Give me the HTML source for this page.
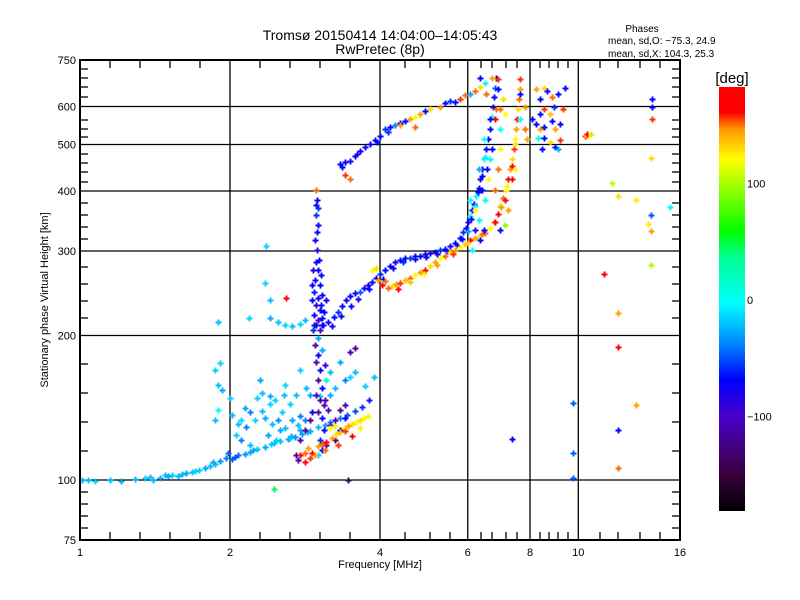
<!DOCTYPE html>
<html><head><meta charset="utf-8">
<style>
html,body{margin:0;padding:0;background:#fff;}
svg{display:block;font-family:"Liberation Sans",sans-serif;}
</style></head>
<body>
<svg id="chart" width="800" height="600" viewBox="0 0 800 600" xmlns="http://www.w3.org/2000/svg">
<defs>
<linearGradient id="cbar" x1="0" y1="1" x2="0" y2="0">
<stop offset="0" stop-color="#000000"/>
<stop offset="0.09" stop-color="#3a0040"/>
<stop offset="0.22" stop-color="#4a00c8"/>
<stop offset="0.31" stop-color="#0000ff"/>
<stop offset="0.39" stop-color="#0080ff"/>
<stop offset="0.49" stop-color="#00ffff"/>
<stop offset="0.60" stop-color="#00ff90"/>
<stop offset="0.66" stop-color="#00ff00"/>
<stop offset="0.83" stop-color="#ffff00"/>
<stop offset="0.90" stop-color="#ff9900"/>
<stop offset="0.92" stop-color="#ff5000"/>
<stop offset="0.94" stop-color="#ff0000"/>
<stop offset="1" stop-color="#ff0000"/>
</linearGradient>
</defs>
<text x="380" y="40" font-size="14" text-anchor="middle">Tromsø 20150414 14:04:00–14:05:43</text>
<text x="380" y="54" font-size="14" text-anchor="middle">RwPretec (8p)</text>
<text x="642" y="32" font-size="10" text-anchor="middle">Phases</text>
<text x="608" y="44" font-size="10">mean, sd,O: −75.3, 24.9</text>
<text x="608" y="57" font-size="10">mean, sd,X: 104.3, 25.3</text>
<g id="grid"></g>
<g id="marks"></g>
<rect x="80" y="60" width="600" height="480" fill="none" stroke="#000" stroke-width="2"/>
<g id="axes"></g>
<text x="380" y="568" font-size="11" text-anchor="middle">Frequency [MHz]</text>
<text x="0" y="0" font-size="11" text-anchor="middle" transform="translate(48,300) rotate(-90)">Stationary phase Virtual Height [km]</text>
<rect x="719" y="87" width="26" height="424" fill="url(#cbar)"/>
<text x="732" y="83" font-size="15" text-anchor="middle">[deg]</text>
<g id="cbticks"></g>
</svg>
<script>
// ---- data (frequency MHz, virtual height km, phase deg) ----
const lowF=[1.01,1.04,1.07,1.15,1.21,1.29,1.35,1.40,1.45,1.48,1.53,1.57,1.63,1.68,1.73,1.78,1.82,1.87,1.91,1.96,1.98,2.02,2.08,2.14,2.19,2.27,2.35,2.42,2.52,2.61,2.70,2.79,2.89,3.00,3.10,3.18,3.32,3.44,3.56,3.68,3.81,1.38,1.50,1.60,1.70,1.85,2.05,2.22,2.45,2.65,2.85];
const lowH=[100,100,99.5,100,99.5,100.5,101,100,101,102.4,102.4,101.9,103.4,103.9,104.9,105.9,106.9,107.9,109.5,111,113.8,110.5,112.7,113.2,114.4,116,117.1,118.8,120.6,121.8,123,124.7,126.5,129,130.2,132,134.6,136.5,139.2,141.8,146.5,101.5,102,103,104.5,109,111.5,115.5,119.5,123.5,126];
const lowP=[-55,-55,-50,-55,-60,-55,-50,-55,-60,-55,-50,-55,-60,-55,-50,-60,-55,-55,-65,-70,-75,-80,-75,-65,-60,-55,-60,-50,-55,-60,-65,-60,-60,-55,-65,-70,-70,-80,-85,-90,-95,-55,-60,-55,-50,-60,-80,-60,-55,-60,-60];

const cloudF=[2.02,2.10,2.14,2.08,2.19,2.25,2.32,2.35,2.41,2.43,2.50,2.54,2.58,2.64,2.66,2.74,2.76,2.27,2.32,2.41,2.46,2.57,2.10,2.06,2.19,2.38,2.47,2.64,2.76,2.83,1.87,1.89,1.91,1.93,1.89,1.87,2.0,2.15,2.52,2.92,2.89,2.71,3.03,3.25,3.40,3.18,3.33,3.48,3.56,3.73,3.89,3.10,2.84,2.58,2.30,2.76,2.35,2.41,2.18,1.89,2.5,2.58,2.66,2.76,2.83,2.41,2.36,2.59];
const cloudH=[136.6,133.4,141,131,138.6,133.4,139,134.7,144,131,133.4,138.6,128.3,144,133.4,130.2,136,148,151.8,149.6,146.8,150.4,121.2,124.1,118.3,124.1,121.2,122.4,127.1,133.4,169.6,157.8,175.4,154,139.9,133.4,148.2,129,127.1,138.6,150.4,150.4,149.7,155.5,161.6,168,176.2,164,168,157,164,146.8,155.5,157.8,161.6,169.6,257.6,237.4,217.7,213.6,213.6,210.5,209.5,211.5,215.6,217.7,307,239];
const cloudP=[-55,-50,-60,-55,-70,-50,-55,-60,-50,-55,-65,-50,-55,-50,-60,-55,-70,-50,-55,-60,-50,-55,-70,-50,-55,-60,-50,-55,-60,-70,-50,-55,-50,-60,-40,-55,-50,-70,-60,-100,-60,-55,-50,-55,-70,-55,-60,-50,-55,-50,-55,-130,-55,-50,-60,-50,-50,-55,-50,-55,-55,-50,-55,-50,-55,-60,-50,150];

const colF=[2.98,2.99,2.98,3.00,2.96,2.99,2.98,3.0,2.96,3.03,2.95,3.0,2.98,3.03,2.95,3.0,3.06,2.98,2.94,3.03,3.0,3.09,3.12,3.06,2.96,3.0,3.06,2.98,3.03,3.10,3.0,3.06,2.98,3.03,3.09,3.0,3.06,3.15,3.18,3.12,3.09,3.03,3.12,3.06,3.0,2.92,2.94,3.02,3.05,2.92,3.05,2.95,3.08,2.99,2.98,3.0,2.83,2.89,3.25,3.33,3.40,3.18,2.76,3.33,3.40,3.25,2.71,2.74,3.48,3.56];
const colH=[402.8,383.9,357.2,340.4,316.7,301.8,285,274.2,261.3,255.1,246.1,239.6,231.7,226.2,220.9,215.6,217.7,210.5,205.5,205.5,197.7,224,237.4,243.1,191.2,182.2,186.7,176.2,169.6,173.7,161.6,155.5,150.4,146.8,143.3,138.6,134.7,139.9,150.4,161.6,127.1,121.2,118.3,115.5,112.7,255.1,274.2,287.7,267.7,237.4,231.7,210.5,210.5,329,374.8,369,127.1,133.4,133.4,139.9,143.3,130.2,121.2,127.1,134.5,121.2,112.7,110.1,184.4,188.5];
const colP=[130,-100,-90,-100,-110,-120,-100,-100,-110,-100,-95,-100,-120,-100,-100,-130,-100,-100,-90,-130,-60,-100,-110,-100,-130,-100,-60,-130,-100,-120,-140,-100,-130,-140,-130,-140,-100,-130,-60,-20,-100,-90,-130,-100,-50,-100,-110,-100,-100,-100,-100,-110,-100,-100,-110,-90,-140,-140,-130,-140,-130,-140,-130,-110,-100,-150,-140,-130,-130,-140];

const oF=[3.06,3.15,3.23,3.30,3.36,3.42,3.48,3.56,3.65,3.71,3.78,3.85,3.92,4.0,4.10,4.19,4.29,4.39,4.49,4.59,4.70,4.81,4.92,5.04,5.16,5.28,5.40,5.53,5.66,5.79,5.87,5.95,6.0,6.06,6.12,6.18,6.24,6.31,6.35,6.42,6.48,6.54,6.60,6.65,6.72,6.75,6.78,6.80,6.84,3.20,3.34,3.50,3.62,3.80,4.05,4.25,4.45,4.70,4.95,5.20,5.45,5.70,5.85,6.0,6.1,6.2,6.3,6.4,6.5];
const oH=[210.5,213.6,218.2,224,230.6,237.4,241.9,245.6,246.7,251.5,255.1,258.8,263.9,269,274.2,279.5,285,287.7,290.4,290.4,293.3,293.3,296.1,297.6,299,301.8,303.3,307.7,312.2,319.8,329.1,335.6,345.4,355.5,365.9,376.6,391.3,406.7,422.7,443.5,465.3,488.3,512.3,537.6,569.5,597.6,627.2,655,687,209,220,230,238,250,262,276,284,288,292,295,300,308,318,330,350,372,398,430,470];
const oP=[-100,-110,-100,-90,-100,-110,-100,-100,-80,-100,-110,-100,-100,-90,-100,-100,-110,-100,-100,-90,-100,-100,-110,-100,-100,-90,-100,-110,-100,-100,-90,-100,-110,-40,-100,-100,-40,-100,-110,-100,-40,-100,-100,-100,-40,-100,-100,-80,-100,-110,-100,-100,-110,-100,-100,-100,-90,-100,-100,-110,-100,-100,-100,-60,-100,-40,-100,-100,-40];

const xF=[3.85,3.92,3.96,4.04,4.15,4.23,4.31,4.39,4.49,4.59,4.70,4.81,4.92,5.04,5.16,5.28,5.40,5.53,5.66,5.79,5.93,6.06,6.2,6.35,6.5,6.65,6.78,6.9,6.96,7.06,7.16,7.23,7.29,7.37,7.44,7.47,7.5,7.54,7.57,7.6,7.64,7.64,4.1,4.35,4.6,4.9,5.2,5.6,6.0,6.4,6.8,7.0,7.2,7.35,7.45,7.13,7.23,7.37,7.47,7.13,6.96];
const xH=[274.2,277,261.3,255.1,251.5,253.9,256.4,257.6,261.3,263.9,267.7,271.6,274.2,279.5,285,290.4,293.3,299,301.8,306.2,310.7,316.7,319.8,322.8,327.6,335.6,345.4,358.9,373,387.6,402.8,422.7,443.5,465.3,488.3,512.3,537.6,564.1,591.9,621.1,651.7,683.8,260,250,258,268,280,296,312,326,345,370,410,450,500,383.9,365.9,422.7,443.5,340.4,332.3];
const xP=[90,100,120,150,130,100,120,140,110,130,90,120,150,100,120,90,130,100,120,90,110,150,120,100,130,90,120,150,100,130,90,150,120,100,140,90,120,150,100,130,120,140,130,150,110,90,120,140,100,130,150,120,90,150,100,150,120,150,90,60,-100];

const lxF=[2.76,2.83,2.87,2.92,3.0,3.06,3.12,3.2,3.27,3.33,3.39,3.45,3.51,3.58,3.65,3.71,3.78,3.18,3.25,3.40,3.51,3.65,2.89,2.96,2.83,3.10,3.30];
const lxH=[112.7,114,116.6,114,117.7,118.9,120,122.4,124.7,125.9,128.3,129.6,130.9,132.1,133.4,134.7,136,128.3,129.6,126.6,123.5,128.3,111.1,112.7,109,115.5,118.3];
const lxP=[150,130,120,160,120,130,150,120,100,110,90,120,100,90,100,90,85,90,80,140,150,95,140,120,150,130,140];

const f2F=[3.33,3.40,3.48,3.56,3.65,3.73,3.82,3.91,4.0,4.09,4.19,4.29,4.39,4.49,4.59,4.7,4.81,4.92,5.04,5.28,5.40,5.53,5.66,5.79,5.93,6.06,6.2,6.35,6.5,3.40,3.48,4.39,4.7,3.36,3.6,3.95,4.15];
const f2H=[454.3,458.6,463,474,483.6,492.9,500,512,522,537.6,543,548,553,558.5,564,569.5,577.8,586,591.9,597.6,609,615,612,621,633,636,645,657.8,671,432,422.7,550,545,448,478,505,530];
const f2P=[-100,-100,-110,-100,-100,-110,-100,-100,-100,-90,-100,-70,-100,-100,120,90,120,-100,100,120,-100,-90,-100,140,130,-60,130,100,-40,140,130,120,130,-100,-110,-100,-90];

const topF=[6.9,6.96,6.8,7.06,7.64,7.83,7.64,8.21,8.38,8.55,8.67,8.86,9.12,8.38,8.55,8.78,8.21,8.38,8.55,8.99,9.19,8.3,8.46,8.78,8.99,9.19,8.55,8.95,8.08,7.83,7.9,8.86,9.12,9.41,9.32,10.33,10.4,6.35,6.72,6.9];
const topH=[651.7,591.9,564,621,636,597.6,564,651.7,621,655,645,627,636,577.8,591.9,577.8,550.7,537.6,543,537.6,550.7,517,488.3,507,493,512,517,597.6,564,537.6,512.3,558.5,488.3,655,591.9,522,522,687,687,684];
const topP=[-100,130,150,100,-100,120,-40,120,-100,100,-110,130,-100,-100,140,110,-100,120,-100,120,-100,-40,-100,100,-100,140,-100,-90,-100,130,120,-100,-60,-100,140,140,100,-100,120,140];

const midF=[6.06,6.2,6.31,6.42,6.5,6.6,6.65,6.72,6.57,6.48,6.35,6.2,6.12,6.31,6.48,6.65,6.96,7.13,6.8,6.96,6.9,6.84,6.54];
const midH=[383.9,365.9,348.7,402.8,383.9,422.7,465.3,488.3,443.5,332.3,316.7,332.3,301.8,443.5,512.3,564,537.6,577.8,402.8,488.3,443.5,591.9,636];
const midP=[-40,90,-40,-100,-40,90,-40,-100,-100,-100,-100,-110,-40,-60,-40,-100,-40,90,130,90,130,130,130];

const farF=[10.41,10.6,14.0,11.68,12.0,13.05,15.28,14.0,13.8,14.0,14.0,11.26,12.0,12.0,9.76,13.05,12.0,9.76,12.0,9.76,14.06,14.06,14.06,7.37,2.45,3.45];
const farH=[527,527,469,415,390,384,370,357,342,330,281,269,223,189,145,143,127,114,106,101,621,598,566,122,95.8,100];
const farP=[150,100,100,70,100,95,-40,-80,95,120,70,150,120,160,-80,120,-100,-80,130,-80,-100,-100,140,-100,10,-160];

// ---- axis functions ----
const X0=80, OCT=150;
function xScale(f){return X0+OCT*Math.log2(f);}
function yScale(h){return 480-144.5*Math.log2(h/100);}
const stops=[[-182,[0,0,0]],[-150,[80,0,120]],[-125,[75,0,200]],[-101,[0,0,255]],[-70,[0,128,255]],[-39,[0,255,255]],[0,[0,255,150]],[26,[0,255,0]],[89,[255,255,0]],[120,[255,160,0]],[149,[255,0,0]],[190,[255,0,0]]];
function color(p){
  if(p<=stops[0][0])return 'rgb(0,0,0)';
  for(let i=1;i<stops.length;i++){
    if(p<=stops[i][0]){const a=stops[i-1],b=stops[i];const t=(p-a[0])/(b[0]-a[0]);
      const c=a[1].map((v,k)=>Math.round(v+(b[1][k]-v)*t));return 'rgb('+c.join(',')+')';}
  }
  return 'rgb(255,0,0)';
}
const NS='http://www.w3.org/2000/svg';
const marks=document.getElementById('marks');
const groups=[['low-trace',lowF,lowH,lowP],['cyan-cloud',cloudF,cloudH,cloudP],['vertical-column',colF,colH,colP],['o-trace',oF,oH,oP],['x-trace',xF,xH,xP],['lower-x-trace',lxF,lxH,lxP],['f2-trace',f2F,f2H,f2P],['top-cloud',topF,topH,topP],['mid-points',midF,midH,midP],['sparse-points',farF,farH,farP]];
groups.forEach(g=>{
  const gg=document.createElementNS(NS,'g');
  
  
  for(let i=0;i<g[1].length;i++){
    const x=Math.round(xScale(g[1][i])), y=Math.round(yScale(g[2][i]));
    const p=document.createElementNS(NS,'path');
    p.setAttribute('d','M'+(x-2.5)+' '+(y+0.5)+'h6M'+(x+0.5)+' '+(y-2.5)+'v6');
    p.setAttribute('stroke',color(g[3][i]));
    p.setAttribute('stroke-width','1.9');
    
    
    gg.appendChild(p);
  }
  marks.appendChild(gg);
});
// ---- grid & ticks ----
const grid=document.getElementById('grid'), axes=document.getElementById('axes');
function line(par,x1,y1,x2,y2,w,name){const l=document.createElementNS(NS,'line');l.setAttribute('x1',x1);l.setAttribute('y1',y1);l.setAttribute('x2',x2);l.setAttribute('y2',y2);l.setAttribute('stroke','#000');l.setAttribute('stroke-width',w);
  
  
  par.appendChild(l);}
function text(par,x,y,s,anchor,size,name){const t=document.createElementNS(NS,'text');t.setAttribute('x',x);t.setAttribute('y',y);t.setAttribute('font-size',size);t.setAttribute('text-anchor',anchor);t.textContent=s;
  
  
  par.appendChild(t);}
const xTickVals=[1,2,4,6,8,10,16];
const xTickLabels=['1','2','4','6','8','10','16'];
const yTickVals=[75,100,200,300,400,500,600,750];
const yTickLabels=['75','100','200','300','400','500','600','750'];
[2,4,6,8,10].forEach(f=>line(grid,xScale(f),60,xScale(f),540,1.3,'x-gridline'));
[100,200,300,400,500,600].forEach(h=>line(grid,80,yScale(h),680,yScale(h),1.3,'y-gridline'));
xTickVals.forEach((f,i)=>text(axes,xScale(f),556,xTickLabels[i],'middle',11,'x-tick-label'));
yTickVals.forEach((h,i)=>text(axes,76,yScale(h)+4,yTickLabels[i],'end',11,'y-tick-label'));
const xMinor=[110,140,170,200,260,290,320,350,405,430,450,481,492,506,517,540,549,558,568,600,618,640,660];
xMinor.forEach(x=>{line(axes,x,540,x,532,1.3,'x-minor-tick');line(axes,x,60,x,68,1.3,'x-minor-tick');});
const yMinor=[69,78,87,97,120,129,137,154,163,172,182,203,215,227,239,267,284,301,318,364,393,422,451,492,504,516,528];
yMinor.forEach(y=>{line(axes,80,y,88,y,1.3,'y-minor-tick');line(axes,680,y,672,y,1.3,'y-minor-tick');});
// colorbar labels
const cbVals=[100,0,-100];
const cbLabels=['100','0','−100'];
const cbt=document.getElementById('cbticks');
cbVals.forEach((v,i)=>text(cbt,747,300-v*1.165+4,cbLabels[i],'start',11,'colorbar-label'));
</script>
</body></html>
